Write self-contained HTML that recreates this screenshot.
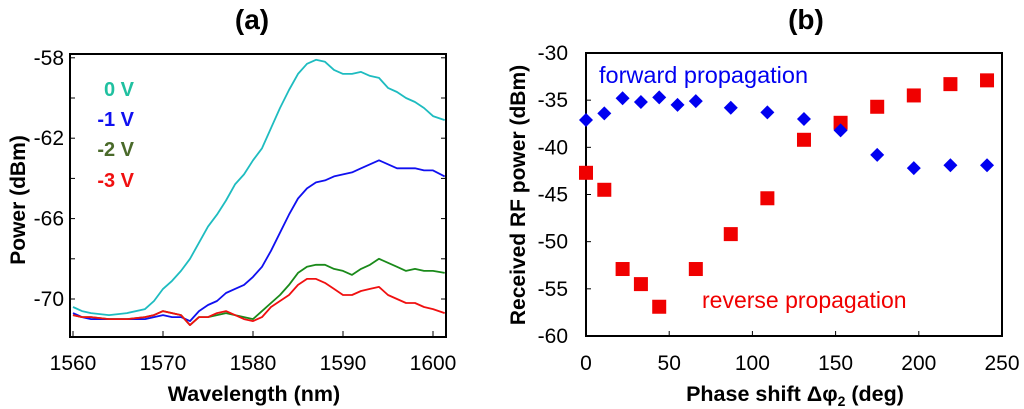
<!DOCTYPE html>
<html><head><meta charset="utf-8"><style>
body{margin:0;background:#fff;}
svg{display:block;font-family:"Liberation Sans",sans-serif;}
</style></head><body>
<svg id="c" width="1024" height="409" viewBox="0 0 1024 409">
<text x="252" y="29" font-size="28" font-weight="bold" text-anchor="middle">(a)</text>
<text x="806" y="29" font-size="28" font-weight="bold" text-anchor="middle">(b)</text>
<g id="pa"></g>
<g id="pb"></g>
</svg>
<script>
const waveX=[1560,1561,1562,1564,1566,1568,1569,1570,1571,1572,1573,1574,1575,1576,1577,1578,1579,1580,1581,1582,1583,1584,1585,1586,1587,1588,1589,1590,1591,1592,1593,1594,1595,1596,1597,1598,1599,1600,1601.3];
const v0=[-70.4,-70.6,-70.7,-70.8,-70.7,-70.5,-70.1,-69.5,-69.1,-68.6,-68.0,-67.2,-66.4,-65.8,-65.1,-64.3,-63.8,-63.1,-62.5,-61.5,-60.5,-59.6,-58.8,-58.3,-58.1,-58.2,-58.6,-58.8,-58.8,-58.7,-58.9,-59.0,-59.5,-59.7,-60.0,-60.2,-60.5,-60.9,-61.1];
const v1=[-70.7,-70.9,-71.0,-71.0,-71.0,-71.0,-70.9,-70.8,-70.9,-70.9,-71.1,-70.6,-70.3,-70.1,-69.7,-69.5,-69.3,-68.9,-68.4,-67.6,-66.7,-65.8,-65.0,-64.5,-64.2,-64.1,-63.9,-63.8,-63.7,-63.5,-63.3,-63.1,-63.3,-63.5,-63.5,-63.5,-63.6,-63.6,-63.9];
const v2=[-70.8,-70.9,-70.9,-71.0,-71.0,-70.9,-70.8,-70.6,-70.7,-70.8,-71.3,-70.9,-70.9,-70.8,-70.7,-70.8,-70.9,-71.0,-70.6,-70.2,-69.8,-69.3,-68.7,-68.4,-68.3,-68.3,-68.5,-68.6,-68.8,-68.5,-68.3,-68.0,-68.2,-68.4,-68.6,-68.5,-68.6,-68.6,-68.7];
const v3=[-70.8,-70.9,-70.9,-71.0,-71.0,-70.9,-70.8,-70.6,-70.7,-70.8,-71.3,-70.9,-70.9,-70.7,-70.6,-70.8,-71.0,-71.1,-70.9,-70.4,-70.1,-69.8,-69.3,-69.0,-69.0,-69.2,-69.5,-69.8,-69.8,-69.6,-69.5,-69.4,-69.8,-70.0,-70.2,-70.2,-70.4,-70.5,-70.7];
const aXTicks=[1560,1570,1580,1590,1600];
const aYTicks=[-58,-62,-66,-70];
const phase=[0,11,22,33,44,55,66,87,109,131,153,175,197,219,241];
const fwd=[-37.1,-36.4,-34.8,-35.2,-34.7,-35.5,-35.1,-35.8,-36.3,-37.0,-38.2,-40.8,-42.2,-41.9,-41.9];
const revPhase=[0,11,22,33,44,66,87,109,131,153,175,197,219,241];
const rev=[-42.7,-44.5,-52.9,-54.5,-56.9,-52.9,-49.2,-45.4,-39.2,-37.4,-35.7,-34.5,-33.3,-32.9];
const bXTicks=[0,50,100,150,200,250];
const bYTicks=[-30,-35,-40,-45,-50,-55,-60];

const NS="http://www.w3.org/2000/svg";
function mk(p,t,a,txt){const e=document.createElementNS(NS,t);for(const k in a)e.setAttribute(k,a[k]);if(txt!==undefined)e.textContent=txt;p.appendChild(e);return e;}
function box(p,L,T,R,B){
 [[L-1,T,R+1,T],[L-1,B,R+1,B],[L,T-1,L,B+1],[R,T-1,R,B+1]].forEach(s=>{
  let l=mk(p,'line',{x1:s[0],y1:s[1],x2:s[2],y2:s[3],stroke:'#000','stroke-width':2});
  
  
 });
}
// panel a
const pa=document.getElementById('pa');
const ax=x=>73+(x-1560)*9.0, ay=y=>299-(y+70)*20.1;
const aL=70,aR=446,aT=54,aB=337;
aXTicks.forEach(t=>{
 let l=mk(pa,'line',{x1:ax(t),x2:ax(t),y1:aB,y2:aB-6,stroke:'#000','stroke-width':1});
 
 let s=mk(pa,'text',{x:ax(t),y:370,'font-size':21,'text-anchor':'middle'},t);
 
});
[-58,-60,-62,-64,-66,-68,-70].forEach(t=>{
 let l=mk(pa,'line',{x1:aL,x2:aL+5,y1:ay(t),y2:ay(t),stroke:'#000'});
 
 let r=mk(pa,'line',{x1:aR,x2:aR-5,y1:ay(t),y2:ay(t),stroke:'#000'});
 
});
aYTicks.forEach(t=>{
 let s=mk(pa,'text',{x:64,y:ay(t)+7,'font-size':21,'text-anchor':'end'},t);
 
});
[[v0,'#1ebcc0'],[v1,'#1010f0'],[v2,'#1a8a1a'],[v3,'#f01010']].forEach((s,i)=>{
 const d=waveX.map((x,j)=>(j?'L':'M')+ax(x).toFixed(1)+','+ay(s[0][j]).toFixed(1)).join('');
 let p=mk(pa,'path',{d:d,fill:'none',stroke:s[1],'stroke-width':1.8,'stroke-linejoin':'round'});
 
});
box(pa,aL,aT,aR,aB);
[['0 V','#20c0a0',96],['-1 V','#1010f0',126],['-2 V','#4a6a2a',156],['-3 V','#f01010',187]].forEach(l=>{
 let t=mk(pa,'text',{x:134,y:l[2],'font-size':20,'font-weight':'bold','text-anchor':'end',fill:l[1]},l[0]);
 
});
let xa=mk(pa,'text',{x:254,y:401,'font-size':21.5,'font-weight':'bold','text-anchor':'middle'},'Wavelength (nm)');

let ya=mk(pa,'text',{x:0,y:0,'font-size':21,'font-weight':'bold','text-anchor':'middle',transform:'translate(25,200) rotate(-90)'},'Power (dBm)');

// panel b
const pb=document.getElementById('pb');
const bx=x=>586+x*1.664, by=y=>53+(-30-y)*9.433;
const bL=586,bR=1002,bT=53,bB=336;
bXTicks.forEach(t=>{
 let l=mk(pb,'line',{x1:bx(t),x2:bx(t),y1:bB,y2:bB-5,stroke:'#000'});
 
 let s=mk(pb,'text',{x:bx(t),y:370,'font-size':21,'text-anchor':'middle'},t);
 
});
bYTicks.forEach(t=>{
 let l=mk(pb,'line',{x1:bL,x2:bL+5,y1:by(t),y2:by(t),stroke:'#000'});
 
 let s=mk(pb,'text',{x:568,y:by(t)+7,'font-size':21,'text-anchor':'end'},t);
 
});
box(pb,bL,bT,bR,bB);
revPhase.forEach((p,i)=>{
 let r=mk(pb,'rect',{x:bx(p)-7,y:by(rev[i])-7,width:14,height:14,fill:'#f00000'});
 
});
phase.forEach((p,i)=>{
 const cx=bx(p),cy=by(fwd[i]);
 let r=mk(pb,'polygon',{points:`${cx},${cy-7} ${cx+7},${cy} ${cx},${cy+7} ${cx-7},${cy}`,fill:'#0000f0'});
 
});
let f1=mk(pb,'text',{x:599,y:83,'font-size':23.5,fill:'#0000f0'},'forward propagation');

let f2=mk(pb,'text',{x:702,y:308,'font-size':23,fill:'#f00000'},'reverse propagation');

let xb=mk(pb,'text',{x:795,y:401,'font-size':21.5,'font-weight':'bold','text-anchor':'middle'});

xb.innerHTML='Phase shift Δφ<tspan font-size="14" dy="5">2</tspan><tspan dy="-5"> (deg)</tspan>';
let yb=mk(pb,'text',{x:0,y:0,'font-size':21,'font-weight':'bold','text-anchor':'middle',transform:'translate(525,195) rotate(-90)'},'Received RF power (dBm)');

</script>
</body></html>
